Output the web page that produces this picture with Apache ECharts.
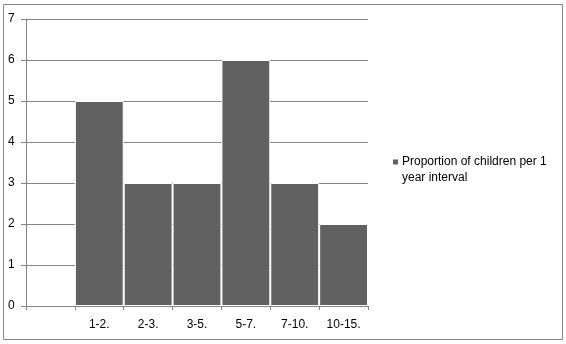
<!DOCTYPE html>
<html><head><meta charset="utf-8">
<script src="https://cdn.jsdelivr.net/npm/echarts@6/dist/echarts.min.js"></script>
<style>html,body{margin:0;padding:0;background:#fff}#c{width:566px;height:344px}</style>
</head><body><div id="c"></div>
<script>
var categories = ['', '1-2.', '2-3.', '3-5.', '5-7.', '7-10.', '10-15.'];
var values = [null, 5, 3, 3, 6, 3, 2];
var yTicks = [0, 1, 2, 3, 4, 5, 6, 7];
var seriesName = 'Proportion of children per 1\nyear interval';

var chart = echarts.init(document.getElementById('c'), null, {renderer: 'canvas'});
var FONT = 'Liberation Sans';
chart.setOption({
  animation: false,
  backgroundColor: '#fff',
  textStyle: {fontFamily: FONT},
  graphic: [{
    type: 'rect', shape: {x: 3.5, y: 4.5, width: 559, height: 335},
    style: {fill: 'none', stroke: '#868686', lineWidth: 1}, silent: true
  }],
  grid: {left: 26, right: 198, top: 19, bottom: 38},
  legend: {
    left: 391, top: 154, padding: 0, itemWidth: 7, itemHeight: 23, itemGap: 0,
    icon: 'path://M0,0h7v7h-7z M0,23h0.01v0.01h-0.01z',
    textStyle: {fontFamily: FONT, fontSize: 12, color: '#000', lineHeight: 16, padding: [0, 0, 0, -2]},
    data: [seriesName]
  },
  xAxis: {
    type: 'category', data: categories,
    axisLine: {show: true, lineStyle: {color: '#868686'}},
    axisTick: {show: true, length: 4, lineStyle: {color: '#868686'}},
    axisLabel: {fontFamily: FONT, fontSize: 12, color: '#000', margin: 13, interval: 0},
    splitLine: {show: false}
  },
  yAxis: {
    type: 'value', min: yTicks[0], max: yTicks[yTicks.length - 1], interval: 1,
    axisLine: {show: true, lineStyle: {color: '#868686'}},
    axisTick: {show: true, length: 5, lineStyle: {color: '#868686'}},
    axisLabel: {fontFamily: FONT, fontSize: 12, color: '#000', margin: 18, align: 'left'},
    splitLine: {show: true, lineStyle: {color: '#868686'}}
  },
  series: [{
    name: seriesName, type: 'bar', data: values,
    barCategoryGap: '0%',
    itemStyle: {color: '#616161', borderColor: '#fff', borderWidth: 1}
  }]
});
</script></body></html>
